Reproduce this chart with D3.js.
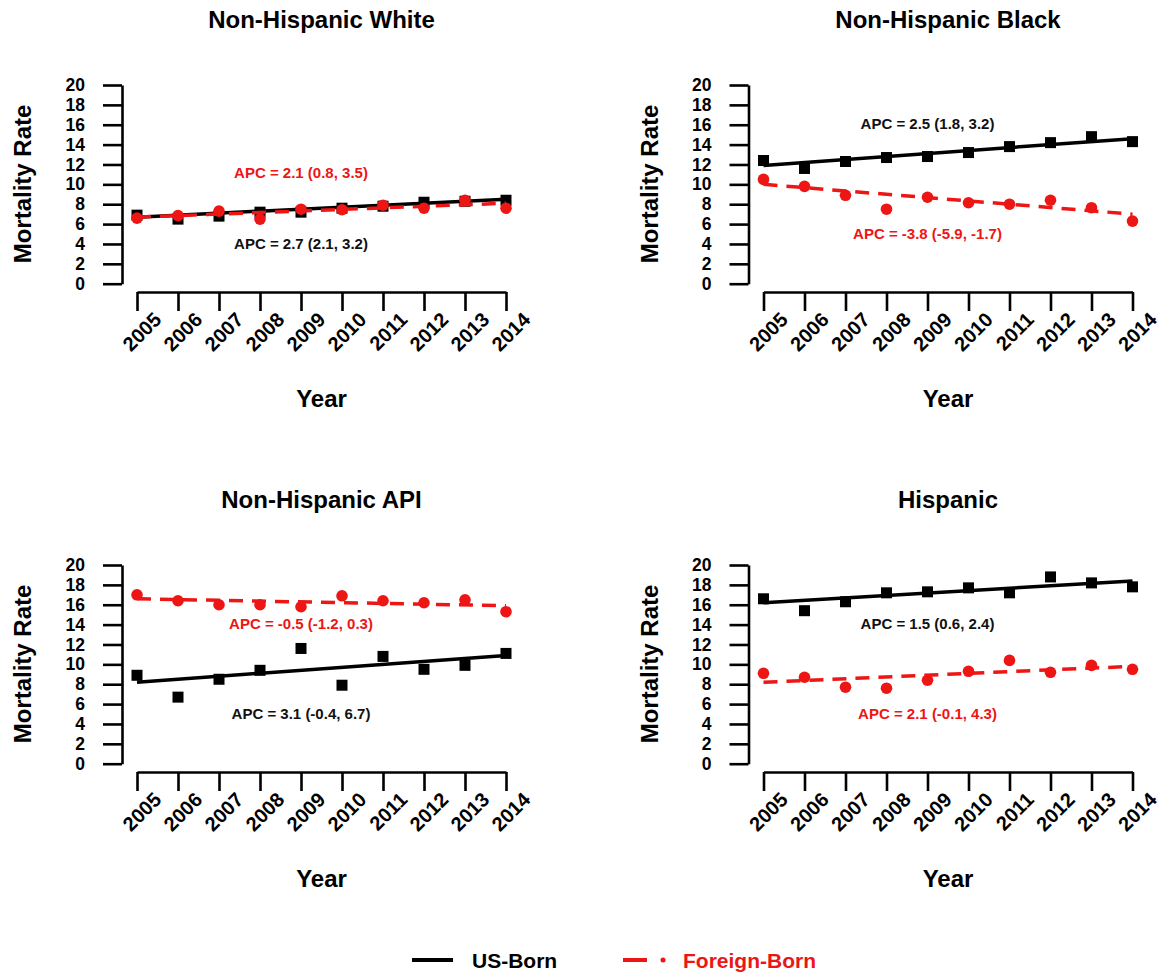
<!DOCTYPE html>
<html>
<head>
<meta charset="utf-8">
<script src="https://cdn.jsdelivr.net/npm/d3@7"></script>
<style>
    body { margin: 0; background: #fff; }
    svg text { font-family: "Liberation Sans", Arial, sans-serif; font-weight: bold; }
</style>
</head>
<body>
<div id="chart"></div>
<script>

const years = [2005, 2006, 2007, 2008, 2009, 2010, 2011, 2012, 2013, 2014];
const groups = ['Non-Hispanic White', 'Non-Hispanic Black', 'Non-Hispanic API', 'Hispanic'];
const yTicks = [0, 2, 4, 6, 8, 10, 12, 14, 16, 18, 20];

// observed rates, US-born (squares) and foreign-born (circles)
const usWhite = [6.9, 6.5, 6.8, 7.2, 7.2, 7.6, 7.8, 8.2, 8.3, 8.4];
const fbWhite = [6.6, 6.85, 7.3, 6.5, 7.5, 7.45, 7.9, 7.6, 8.4, 7.6];
const usBlack = [12.4, 11.6, 12.3, 12.7, 12.8, 13.2, 13.8, 14.2, 14.8, 14.3];
const fbBlack = [10.5, 9.8, 8.9, 7.5, 8.7, 8.15, 8.0, 8.4, 7.65, 6.3];
const usApi = [8.9, 6.7, 8.5, 9.4, 11.6, 7.9, 10.8, 9.5, 9.9, 11.1];
const fbApi = [17.0, 16.4, 16.0, 16.0, 15.8, 16.9, 16.4, 16.2, 16.5, 15.3];
const usHisp = [16.6, 15.4, 16.3, 17.2, 17.3, 17.7, 17.2, 18.8, 18.2, 17.8];
const fbHisp = [9.1, 8.7, 7.7, 7.6, 8.4, 9.3, 10.4, 9.2, 9.9, 9.5];

// fitted trend values at 2005 and 2014
const usFit = [[6.7, 8.5], [11.9, 14.6], [8.2, 10.9], [16.2, 18.4]];
const fbFit = [[6.7, 8.1], [10.0, 7.0], [16.6, 15.9], [8.2, 9.8]];

const usApc = ['APC = 2.7 (2.1, 3.2)', 'APC = 2.5 (1.8, 3.2)', 'APC = 3.1 (-0.4, 6.7)', 'APC = 1.5 (0.6, 2.4)'];
const fbApc = ['APC = 2.1 (0.8, 3.5)', 'APC = -3.8 (-5.9, -1.7)', 'APC = -0.5 (-1.2, 0.3)', 'APC = 2.1 (-0.1, 4.3)'];

const legendLabels = ['US-Born', 'Foreign-Born'];

const usSeries = [usWhite, usBlack, usApi, usHisp];
const fbSeries = [fbWhite, fbBlack, fbApi, fbHisp];

// layout
const width = 1169;
const height = 975;
const red = '#ee1515';
const colOffset = [0, 626.5];
const rowOffset = [0, 480];
const usLabelY = [4.0, 16.1, 5.0, 14.1];
const fbLabelY = [11.2, 5.0, 14.1, 5.0];


buildCanvas();


function buildCanvas() {

    const svg = d3.select('#chart')
        .append('svg')
        .attr('width', width)
        .attr('height', height);

    const x = d3.scaleLinear()
        .domain([2005, 2014])
        .range([137, 506]);

    const y = d3.scaleLinear()
        .domain([0, 20])
        .range([283.7, 85]);

    const line = d3.line()
        .x(d => x(d[0]))
        .y(d => y(d[1]));

    groups.forEach((name, i) => {

        const g = svg.append('g')
            .attr('transform', `translate(${colOffset[i % 2]}, ${rowOffset[Math.floor(i / 2)]})`);

        // y axis
        const yAxis = g.append('g')
            .attr('transform', 'translate(122, 0)')
            .call(d3.axisLeft(y).tickValues(yTicks).tickSize(19).tickSizeOuter(0).tickPadding(18));

        // x axis, detached below the plot
        const xAxis = g.append('g')
            .attr('transform', 'translate(0, 292)')
            .call(d3.axisBottom(x).tickValues(years).tickSize(19).tickSizeOuter(0).tickFormat(d3.format('d')));

        xAxis.selectAll('text')
            .attr('x', 0)
            .attr('y', 0)
            .attr('dy', 0)
            .attr('transform', 'translate(25, 29) rotate(-45)')
            .style('text-anchor', 'end')
            .attr('font-size', 20);

        [yAxis, xAxis].forEach(a => {
            a.selectAll('path, line')
                .attr('stroke', '#000')
                .attr('stroke-width', 2.6);
            a.selectAll('text')
                .attr('fill', '#000');
        });
        yAxis.selectAll('text').attr('font-size', 17.5);
        yAxis.attr('font-family', null);
        xAxis.attr('font-family', null);

        // titles
        g.append('text')
            .attr('x', 321.5)
            .attr('y', 28)
            .attr('text-anchor', 'middle')
            .attr('font-size', 24)
            .text(name);

        g.append('text')
            .attr('transform', 'translate(31, 184) rotate(-90)')
            .attr('text-anchor', 'middle')
            .attr('font-size', 24)
            .text('Mortality Rate');

        g.append('text')
            .attr('x', 321.5)
            .attr('y', 407)
            .attr('text-anchor', 'middle')
            .attr('font-size', 24)
            .text('Year');

        // US-born points and trend
        g.selectAll('.sq')
            .data(years.map((yr, j) => [yr, usSeries[i][j]]))
            .enter()
            .append('rect')
            .attr('class', 'sq')
            .attr('x', d => x(d[0]) - 5.5)
            .attr('y', d => y(d[1]) - 5.5)
            .attr('width', 11)
            .attr('height', 11)
            .attr('fill', '#000');

        g.append('path')
            .attr('d', line([[2005, usFit[i][0]], [2014, usFit[i][1]]]))
            .attr('fill', 'none')
            .attr('stroke', '#000')
            .attr('stroke-width', 3.5);

        // foreign-born points and trend
        g.selectAll('.dot')
            .data(years.map((yr, j) => [yr, fbSeries[i][j]]))
            .enter()
            .append('circle')
            .attr('class', 'dot')
            .attr('cx', d => x(d[0]))
            .attr('cy', d => y(d[1]))
            .attr('r', 5.8)
            .attr('fill', red);

        g.append('path')
            .attr('d', line([[2005, fbFit[i][0]], [2014, fbFit[i][1]]]))
            .attr('fill', 'none')
            .attr('stroke', red)
            .attr('stroke-width', 3.5)
            .attr('stroke-dasharray', '14,9');

        // APC labels
        g.append('text')
            .attr('x', x(2009))
            .attr('y', y(usLabelY[i]))
            .attr('dy', '0.36em')
            .attr('text-anchor', 'middle')
            .attr('font-size', 15)
            .attr('fill', '#111')
            .text(usApc[i]);

        g.append('text')
            .attr('x', x(2009))
            .attr('y', y(fbLabelY[i]))
            .attr('dy', '0.36em')
            .attr('text-anchor', 'middle')
            .attr('font-size', 15)
            .attr('fill', red)
            .text(fbApc[i]);
    });

    // legend
    const legend = svg.append('g');

    legend.append('line')
        .attr('x1', 412).attr('x2', 453)
        .attr('y1', 960).attr('y2', 960)
        .attr('stroke', '#000')
        .attr('stroke-width', 4);

    legend.append('text')
        .attr('x', 472)
        .attr('y', 968)
        .attr('font-size', 21)
        .text(legendLabels[0]);

    legend.append('line')
        .attr('x1', 623).attr('x2', 647)
        .attr('y1', 960).attr('y2', 960)
        .attr('stroke', red)
        .attr('stroke-width', 4);

    legend.append('circle')
        .attr('cx', 663)
        .attr('cy', 960)
        .attr('r', 2.5)
        .attr('fill', red);

    legend.append('text')
        .attr('x', 683)
        .attr('y', 968)
        .attr('font-size', 21)
        .attr('fill', red)
        .text(legendLabels[1]);

}

</script>
</body>
</html>
